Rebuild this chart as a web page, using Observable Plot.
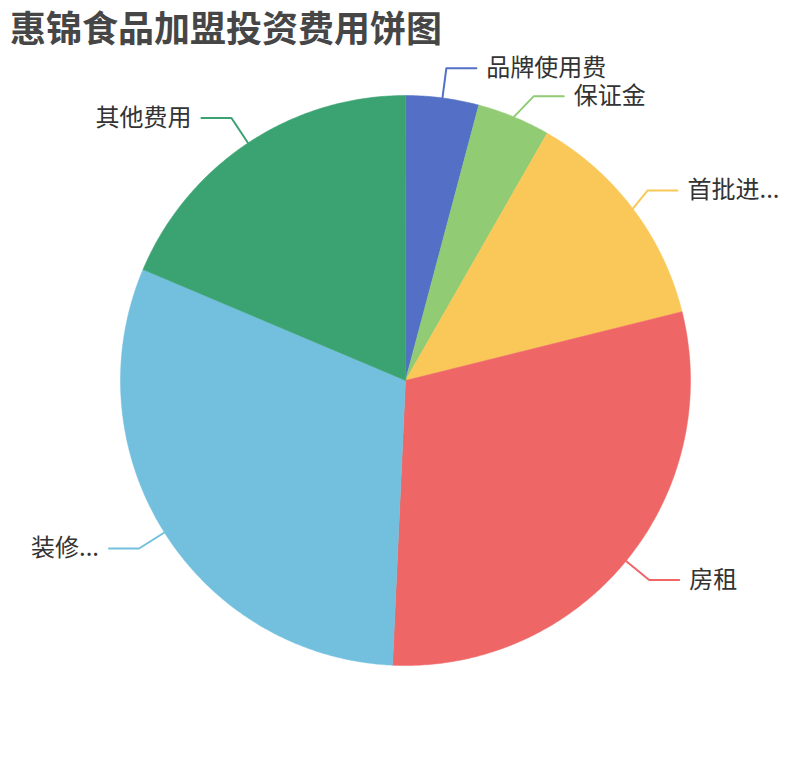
<!DOCTYPE html>
<html><head><meta charset="utf-8">
<script src="https://cdn.jsdelivr.net/npm/d3@7"></script>
<script src="https://cdn.jsdelivr.net/npm/@observablehq/plot@0.6"></script>
<style>
body{margin:0;background:#fff;}
#wrap{position:relative;width:810px;height:760px;}
#title{position:absolute;left:10px;top:0px;font-weight:bold;font-size:36px;font-family:"Noto Sans CJK SC",sans-serif;color:#464646;line-height:normal;white-space:nowrap;z-index:2;}
#chart{position:absolute;left:0;top:0;}
</style></head><body>
<div id="wrap"><div id="title">惠锦食品加盟投资费用饼图</div><div id="chart"></div></div>
<script>
const categories = ["品牌使用费","保证金","首批进货费","房租","装修费用","其他费用"];
const labels = ["品牌使用费","保证金","首批进...","房租","装修...","其他费用"];
const values = [2, 2, 6.2, 14.3, 14.8, 9];
const colors = ["#5470c6","#91cc75","#fac858","#ee6666","#73c0de","#3ba272"];

const W = 810, H = 760, cx = 405, cy = 380;
const R = 285, L1 = 30, L2 = 30, GAP = 28, TG = 10;

const arcs = d3.pie().sort(null).value(d => d)(values);

// slice polygons
const slicePts = [];
arcs.forEach((a, i) => {
  const name = categories[i];
  slicePts.push({name, x: 0, y: 0});
  const n = Math.max(2, Math.ceil((a.endAngle - a.startAngle) / (Math.PI / 360)));
  for (let k = 0; k <= n; k++) {
    const t = a.startAngle + (a.endAngle - a.startAngle) * k / n;
    slicePts.push({name, x: R * Math.sin(t), y: -R * Math.cos(t)});
  }
});

// label layout (shift overlapping labels, then realign on an ellipse)
const rA = R + L1;
const info = arcs.map((a, i) => {
  const m = (a.startAngle + a.endAngle) / 2;
  const s = Math.sin(m), c = -Math.cos(m);
  return {name: categories[i], label: labels[i], side: s >= 0 ? 1 : -1,
          sx: R * s, sy: R * c, ex: rA * s, ey: rA * c};
});
[1, -1].forEach(side => {
  const list = info.filter(d => d.side === side).sort((a, b) => a.ey - b.ey);
  let shifted = false;
  for (let k = 1; k < list.length; k++) {
    if (list[k].ey < list[k - 1].ey + GAP) {
      list[k].ey = list[k - 1].ey + GAP;
      shifted = true;
    }
  }
  if (!shifted) return;
  [list.filter(d => d.ey <= 0), list.filter(d => d.ey > 0)].forEach(semi => {
    if (!semi.length) return;
    let far = semi[0];
    semi.forEach(d => { if (Math.abs(d.ey) >= Math.abs(far.ey)) far = d; });
    const dx0 = Math.abs(far.ex) + TG;
    const rB = dx0 < rA ? Math.abs(far.ey) / Math.sqrt(1 - dx0 * dx0 / (rA * rA)) : rA;
    semi.forEach(d => {
      const dy = Math.abs(d.ey);
      d.ex = side * (Math.sqrt(Math.max(0, 1 - dy * dy / (rB * rB))) * rA - TG);
    });
  });
});
const leaderPts = [];
info.forEach(d => {
  leaderPts.push({name: d.name, x: d.sx, y: d.sy});
  leaderPts.push({name: d.name, x: d.ex, y: d.ey});
  leaderPts.push({name: d.name, x: d.ex + d.side * L2, y: d.ey});
});
const textPts = info.map(d => ({label: d.label, side: d.side, x: d.ex + d.side * L2, y: d.ey}));

const font = "'Noto Sans CJK SC', sans-serif";
const plot = Plot.plot({
  width: W, height: H, margin: 0,
  x: {domain: [-cx, W - cx], axis: null},
  y: {domain: [H - cy, -cy], axis: null},
  color: {domain: categories, range: colors},
  style: {background: "transparent"},
  marks: [
    Plot.line(slicePts, {x: "x", y: "y", z: "name", fill: "name", stroke: "name", strokeWidth: 0.5, curve: "linear-closed"}),
    Plot.line(leaderPts, {x: "x", y: "y", z: "name", stroke: "name", strokeWidth: 2}),
    Plot.text(textPts.filter(d => d.side > 0), {x: "x", y: "y", text: "label", textAnchor: "start", dx: TG, fontSize: 24, fill: "#333", fontFamily: font}),
    Plot.text(textPts.filter(d => d.side < 0), {x: "x", y: "y", text: "label", textAnchor: "end", dx: -TG, fontSize: 24, fill: "#333", fontFamily: font})
  ]
});
document.getElementById("chart").appendChild(plot);
</script>
</body></html>
